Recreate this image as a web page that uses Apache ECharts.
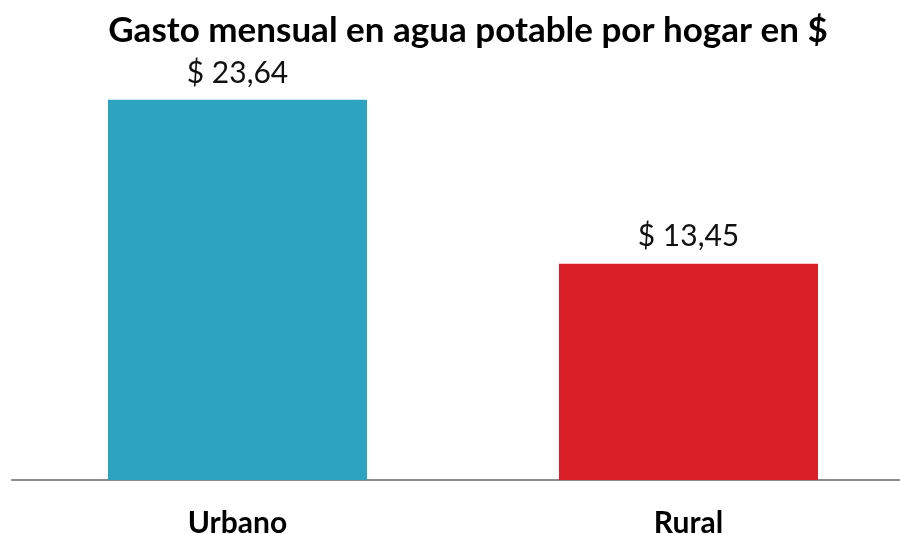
<!DOCTYPE html>
<html>
<head>
<meta charset="utf-8">
<script src="https://cdn.jsdelivr.net/npm/echarts@6/dist/echarts.min.js"></script>
<style>
  html, body { margin: 0; padding: 0; background: #fff; }
  #chart { width: 900px; height: 534px; }
</style>
</head>
<body>
<div id="chart"></div>
<script>
// DATOS
var categorias = ['Urbano', 'Rural'];
var gasto = [23.64, 13.45];
var colores = ['#2ea3c0', '#da1f29'];

var fuente = 'Lato';

var chart = echarts.init(document.getElementById('chart'));

var option = {
    animation: false,
    title: {
        text: 'Gasto mensual en agua potable por hogar en $',
        left: 463,
        textAlign: 'center',
        top: 8,
        textStyle: { fontFamily: fuente, fontWeight: 'bold', fontSize: 35, color: '#000' }
    },
    grid: { left: 12, width: 902, top: 78, bottom: 54, outerBoundsMode: 'none', containLabel: false },
    xAxis: {
        type: 'category',
        data: categorias,
        axisLine: { lineStyle: { color: '#8c8c8c', width: 2 } },
        axisTick: { show: false },
        axisLabel: { fontFamily: fuente, fontWeight: 'bold', fontSize: 30, color: '#000', margin: 28 }
    },
    yAxis: {
        type: 'value',
        min: 0,
        max: 25,
        show: false,
        splitLine: { show: false }
    },
    series: [{
        type: 'bar',
        barWidth: 259,
        data: gasto.map(function (v, i) {
            return { value: v, itemStyle: { color: colores[i] } };
        }),
        label: {
            show: true,
            position: 'top',
            distance: 12,
            fontFamily: fuente,
            fontSize: 30,
            color: '#111',
            formatter: function (p) { return '$ ' + p.value.toFixed(2).replace('.', ','); }
        }
    }]
};

chart.setOption(option);
</script>
</body>
</html>
